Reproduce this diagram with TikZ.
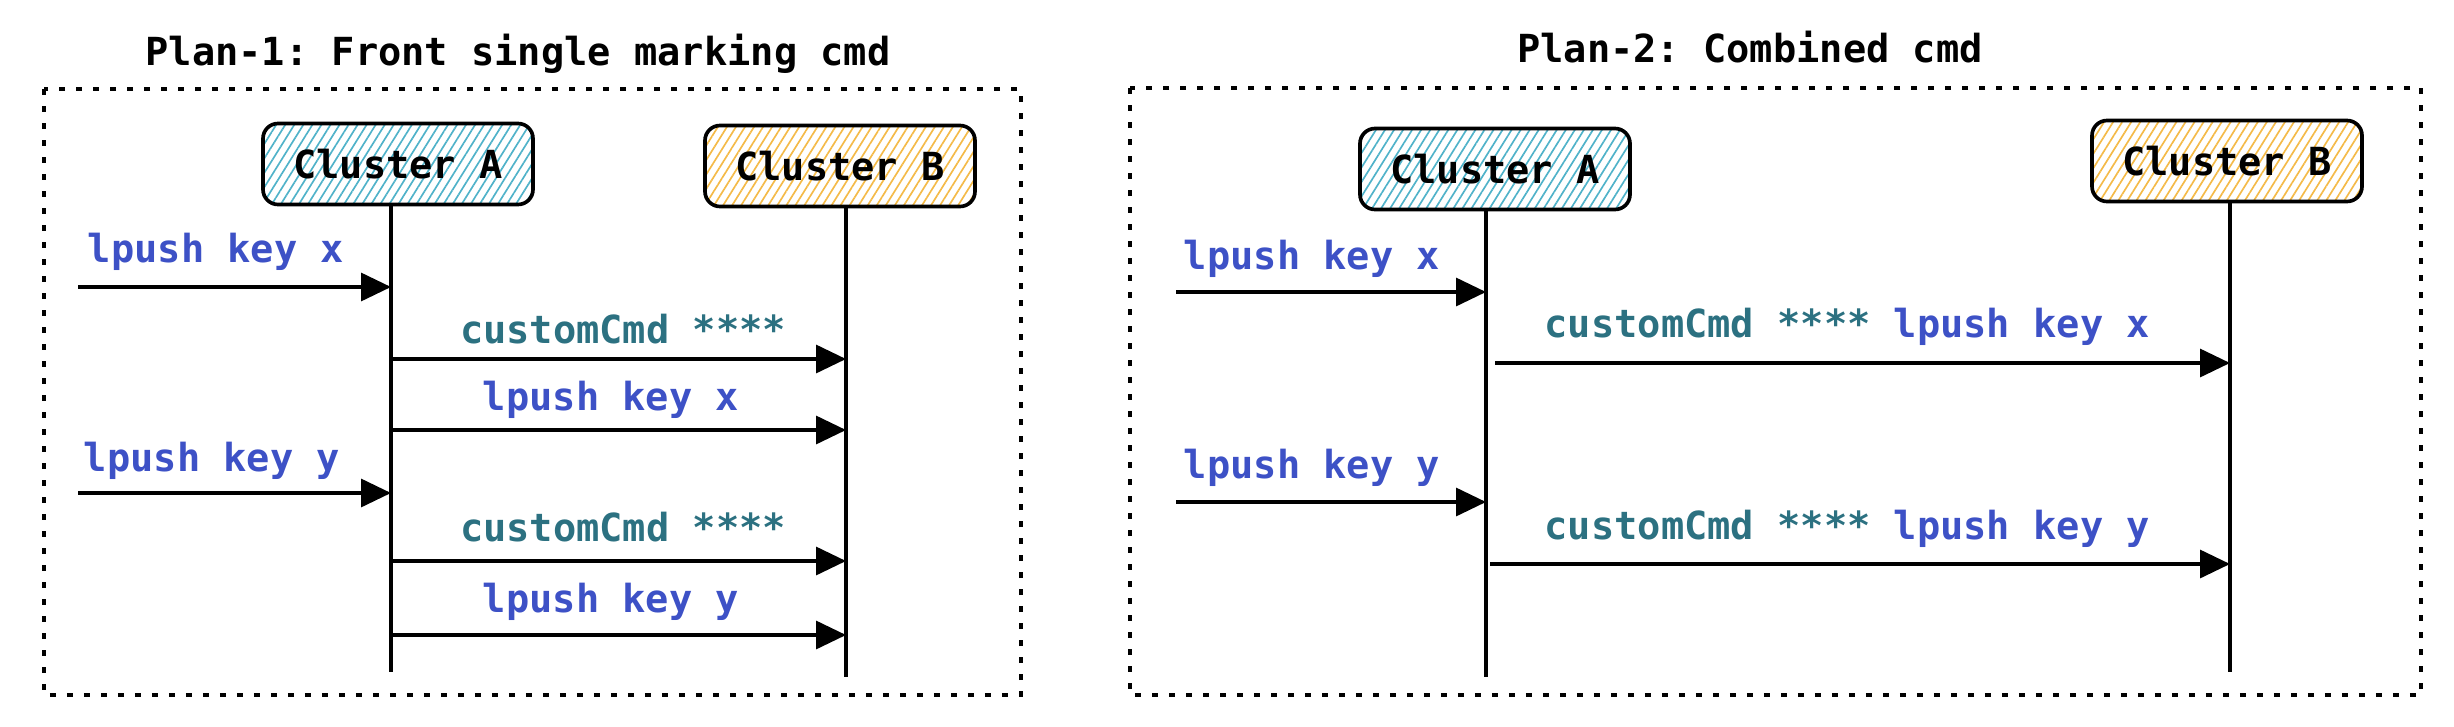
\documentclass[tikz,border=0pt]{standalone}
\usepackage{fontspec}
\setmonofont{DejaVu Sans Mono}
\usetikzlibrary{arrows.meta,patterns.meta}
\definecolor{cblue}{HTML}{3D51C6}
\definecolor{cteal}{HTML}{2C7181}
\definecolor{hatchA}{HTML}{4FB2C9}
\definecolor{hatchB}{HTML}{F4BA48}
\tikzset{
  txt/.style={font=\ttfamily\bfseries\fontsize{11.6}{13}\selectfont, inner sep=0pt, anchor=center},
  bl/.style={txt, text=cblue},
  tl/.style={txt, text=cteal},
  ttl/.style={txt, text=black},
  cluster/.style={draw=black, line width=1.1pt, rounded corners=4.5pt, minimum width=81pt, minimum height=24.3pt, inner sep=0pt, font=\ttfamily\bfseries\fontsize{11.6}{13}\selectfont},
  clA/.style={cluster, pattern={Lines[angle=58,distance=2.3pt,line width=0.5pt]}, pattern color=hatchA},
  clB/.style={cluster, pattern={Lines[angle=58,distance=2.3pt,line width=0.5pt]}, pattern color=hatchB},
  life/.style={draw=black, line width=1pt},
  msg/.style={draw=black, line width=1pt, -{Triangle[length=9pt,width=8.4pt]}},
  frame/.style={draw=black, line width=1.2pt, dash pattern=on 1.8pt off 3.3pt},
}
\begin{document}
\begin{tikzpicture}[x=0.3pt,y=-0.3pt]
\useasboundingbox (0,0) rectangle (2454,726);

% ---------------- Plan 1 ----------------
\node[ttl] (t1) at (518,54) {Plan-1: Front single marking cmd};
\draw[frame] (44,89) rectangle (1021,695);
\node[clA] (a1) at (398,164) {Cluster A};
\node[clB] (b1) at (840,166) {Cluster B};
\coordinate (a1e) at (391,672);
\coordinate (b1e) at (846,677);
\draw[life] (a1.south -| a1e) -- (a1e);
\draw[life] (b1.south -| b1e) -- (b1e);

\coordinate (s1) at (78,287);   \coordinate (e1) at (391,287);
\coordinate (s2) at (391,359);  \coordinate (e2) at (846,359);
\coordinate (s3) at (391,430);  \coordinate (e3) at (846,430);
\coordinate (s4) at (78,493);   \coordinate (e4) at (391,493);
\coordinate (s5) at (391,561);  \coordinate (e5) at (846,561);
\coordinate (s6) at (391,635);  \coordinate (e6) at (846,635);
\draw[msg] (s1) -- (e1);
\draw[msg] (s2) -- (e2);
\draw[msg] (s3) -- (e3);
\draw[msg] (s4) -- (e4);
\draw[msg] (s5) -- (e5);
\draw[msg] (s6) -- (e6);
\node[bl] (l1) at (216,252) {lpush key x};
\node[tl] (l2) at (623,329) {customCmd ****};
\node[bl] (l3) at (611,400) {lpush key x};
\node[bl] (l4) at (212,461) {lpush key y};
\node[tl] (l5) at (623,527) {customCmd ****};
\node[bl] (l6) at (611,602) {lpush key y};

% ---------------- Plan 2 ----------------
\node[ttl] (t2) at (1750,47) {Plan-2: Combined cmd};
\draw[frame] (1130,88) rectangle (2421,695);
\node[clA] (a2) at (1495,169) {Cluster A};
\node[clB] (b2) at (2227,161) {Cluster B};
\coordinate (a2e) at (1486,677);
\coordinate (b2e) at (2230,672);
\draw[life] (a2.south -| a2e) -- (a2e);
\draw[life] (b2.south -| b2e) -- (b2e);

\coordinate (p1) at (1176,292);  \coordinate (q1) at (1486,292);
\coordinate (p2) at (1495,363);  \coordinate (q2) at (2230,363);
\coordinate (p3) at (1176,502);  \coordinate (q3) at (1486,502);
\coordinate (p4) at (1490,564);  \coordinate (q4) at (2230,564);
\draw[msg] (p1) -- (q1);
\draw[msg] (p2) -- (q2);
\draw[msg] (p3) -- (q3);
\draw[msg] (p4) -- (q4);
\node[bl] (m1) at (1312,259) {lpush key x};
\node[txt, anchor=west] (m2) at (1544,327) {\textcolor{cteal}{customCmd ****} \textcolor{cblue}{lpush key x}};
\node[bl] (m3) at (1312,468) {lpush key y};
\node[txt, anchor=west] (m4) at (1544,529) {\textcolor{cteal}{customCmd ****} \textcolor{cblue}{lpush key y}};
\end{tikzpicture}
\end{document}
